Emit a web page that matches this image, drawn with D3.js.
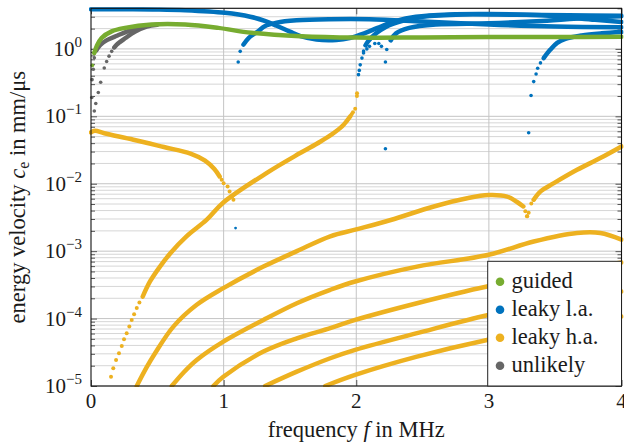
<!DOCTYPE html>
<html>
<head>
<meta charset="utf-8">
<script src="https://cdn.jsdelivr.net/npm/d3@7"></script>
<style>
  body { margin: 0; background: #fff; }
</style>
</head>
<body>
<svg id="chart" width="624" height="446"></svg>
<script>
// ---- data: [frequency in MHz, energy velocity in mm/us] ----
const xTicks = [0, 1, 2, 3, 4];
const yDecades = [1e-5, 1e-4, 1e-3, 1e-2, 1e-1, 1];
const yExponents = ["\u22125", "\u22124", "\u22123", "\u22122", "\u22121", "0"];
const legendLabels = ["guided", "leaky l.a.", "leaky h.a.", "unlikely"];

// guided (green)
const guidedDots = [[0.01, 0.57], [0.025, 0.87]];
const guidedLine = [[0.025, 0.87], [0.043, 1.1], [0.08, 1.45], [0.156, 1.82], [0.257, 2.05],
  [0.458, 2.3], [0.71, 2.3], [0.96, 2.05], [1.21, 1.73], [1.58, 1.54], [2.0, 1.47],
  [2.5, 1.48], [3.0, 1.5], [3.5, 1.5], [4.0, 1.51]];

// unlikely (grey)
const unlikelyDots1 = [[0.025, 0.12], [0.036, 0.155], [0.055, 0.226], [0.073, 0.32], [0.1, 0.52],
  [0.118, 0.65], [0.136, 0.78], [0.156, 0.92], [0.175, 1.05]];
const unlikelyLine1 = [[0.175, 1.05], [0.194, 1.16], [0.26, 1.45], [0.33, 1.8], [0.42, 2.15], [0.5, 2.28]];
const unlikelyDots2 = [[0.006, 0.19], [0.008, 0.35], [0.017, 0.5], [0.025, 0.74], [0.04, 0.95]];
const unlikelyLine2 = [[0.04, 0.95], [0.07, 1.15], [0.12, 1.35], [0.2, 1.58], [0.3, 1.9], [0.4, 2.2]];

// leaky low attenuation (blue)
const leakyLaLineA = [[0, 3.88], [0.3, 3.88], [0.5, 3.85], [0.71, 3.75], [1.01, 3.43], [1.2, 3.0],
  [1.31, 2.6], [1.4, 2.2], [1.5, 1.8], [1.58, 1.55], [1.7, 1.38], [1.85, 1.36], [1.95, 1.45],
  [2.06, 1.7], [2.16, 2.05], [2.3, 2.6], [2.45, 3.0], [2.7, 3.25], [3.0, 3.3], [3.4, 3.15],
  [3.8, 2.7], [4.0, 2.5]];
const leakyLaDotsB = [[1.11, 0.64], [1.125, 0.92], [1.15, 1.16]];
const leakyLaLineB = [[1.15, 1.16], [1.19, 1.46], [1.26, 1.82], [1.31, 2.17], [1.4, 2.45], [1.55, 2.65],
  [1.8, 2.75], [2.1, 2.75], [2.5, 2.55], [3.0, 2.3], [3.5, 2.15], [4.0, 2.1]];
const leakyLaDotsC = [[2.017, 0.415], [2.023, 0.48], [2.03, 0.58], [2.043, 0.73], [2.055, 0.93], [2.07, 1.13]];
const leakyLaLineC = [[2.07, 1.13], [2.09, 1.3], [2.15, 1.7], [2.22, 2.1], [2.35, 2.6], [2.5, 3.0],
  [2.8, 3.25], [3.2, 3.2], [3.6, 3.15], [4.0, 3.1]];
const leakyLaDotsD = [[2.055, 0.87], [2.08, 1.0], [2.1, 1.09], [2.14, 1.2], [2.17, 1.2], [2.19, 1.09]];
const leakyLaDotsE = [[2.22, 0.033], [2.22, 0.64], [2.23, 0.98], [2.26, 1.34]];
const leakyLaLineE = [[2.26, 1.34], [2.3, 1.7], [2.4, 2.05], [2.6, 2.3], [3.0, 2.4], [3.4, 2.6],
  [3.8, 2.95], [4.0, 3.05]];
const leakyLaDotsF = [[3.3, 0.057], [3.318, 0.204], [3.338, 0.327], [3.356, 0.425], [3.368, 0.515],
  [3.389, 0.62], [3.413, 0.73]];
const leakyLaLineF = [[3.413, 0.73], [3.464, 0.976], [3.515, 1.23], [3.577, 1.41], [3.7, 1.58],
  [3.85, 1.7], [4.0, 1.78]];
const leakyLaLone = [[1.09, 0.0022]];

// leaky high attenuation (yellow)
const leakyHaLine1 = [[0, 0.0577], [0.03, 0.061], [0.1, 0.056], [0.32, 0.045], [0.55, 0.035],
  [0.75, 0.028], [0.86, 0.022], [0.93, 0.0165], [0.97, 0.0128]];
const leakyHaDots1 = [[0.985, 0.0115], [1.0, 0.0102], [1.03, 0.0091], [1.045, 0.0077], [1.065, 0.0065], [1.074, 0.0058]];
const leakyHaDots2 = [[0.151, 1.37e-5], [0.168, 1.83e-5], [0.189, 2.43e-5], [0.211, 3.06e-5],
  [0.232, 3.93e-5], [0.249, 4.94e-5], [0.269, 6.07e-5], [0.289, 7.6e-5], [0.307, 9.5e-5],
  [0.325, 1.16e-4], [0.345, 1.43e-4], [0.365, 1.73e-4]];
const leakyHaLine2 = [[0.39, 2.12e-4], [0.445, 3.55e-4], [0.52, 5.9e-4], [0.6, 9.4e-4], [0.72, 1.66e-3],
  [0.873, 2.93e-3], [0.994, 5.19e-3], [1.326, 0.0145], [1.577, 0.0285], [1.728, 0.042],
  [1.83, 0.0565], [1.905, 0.075], [1.955, 0.1]];
const leakyHaDots2b = [[1.965, 0.107], [1.975, 0.115], [1.992, 0.13], [2.005, 0.2], [2.006, 0.22]];
const leakyHaDots3 = [[3.288, 0.0033], [3.3, 0.0037], [3.32, 0.0051], [3.338, 0.0058]];
const leakyHaLine3 = [[3.338, 0.0058], [3.39, 0.0077], [3.49, 0.0102], [3.665, 0.0161], [3.84, 0.024], [4.0, 0.0357]];
const leakyHaLine4 = [[0.345, 1.0e-5], [0.42, 1.9e-5], [0.483, 3.06e-5], [0.621, 7.6e-5], [0.797, 1.6e-4],
  [0.998, 2.83e-4], [1.3, 5.9e-4], [1.552, 1.0e-3], [1.804, 1.66e-3], [2.0, 2.1e-3], [2.26, 2.9e-3],
  [2.585, 4.6e-3], [2.836, 6.1e-3], [3.0, 6.8e-3], [3.137, 6.45e-3], [3.21, 5.4e-3], [3.26, 4.6e-3]];
const leakyHaDots4 = [[3.275, 3.9e-3], [3.288, 3.3e-3]];
const leakyHaLine5 = [[0.609, 1.0e-5], [0.7, 1.6e-5], [0.797, 2.43e-5], [0.998, 4.55e-5], [1.3, 9.55e-5],
  [1.552, 1.69e-4], [1.804, 2.67e-4], [1.992, 3.55e-4], [2.458, 5.9e-4], [2.998, 8.83e-4],
  [3.338, 1.39e-3], [3.665, 1.86e-3], [3.84, 1.86e-3], [4.0, 1.48e-3]];
const leakyHaLine6 = [[0.923, 1.0e-5], [0.998, 1.37e-5], [1.3, 3.24e-5], [1.552, 5.1e-5], [1.804, 7.2e-5],
  [1.992, 9.55e-5], [2.458, 1.69e-4], [2.986, 2.99e-4], [3.5, 4.6e-4], [4.0, 6.8e-4]];
const leakyHaLine7 = [[1.313, 1.0e-5], [1.552, 1.63e-5], [1.804, 2.58e-5], [1.992, 3.43e-5],
  [2.458, 6.07e-5], [2.998, 1.13e-4], [3.5, 1.7e-4], [4.0, 2.52e-4]];
const leakyHaLine8 = [[1.766, 1.0e-5], [1.992, 1.46e-5], [2.458, 2.72e-5], [2.986, 4.82e-5], [3.5, 7.4e-5], [4.0, 1.07e-4]];

const green = "#77AC30", blue = "#0072BD", yellow = "#EDB120", grey = "#666666";
const legendColors = [green, blue, yellow, grey];

// ---- layout ----
const plotLeft = 91, plotRight = 621.5, plotTop = 8.3, plotBottom = 386;
const serif = "Liberation Serif";
const tickFont = 21, labelFont = 22.5;

const svg = d3.select("#chart");

const x = d3.scaleLinear().domain([0, 4]).range([plotLeft, plotRight]);
const y = d3.scaleLog().domain([1e-5, 4]).range([plotBottom, plotTop]);

// minor tick positions 2..9 in every decade
var minorVals = [];
yDecades.forEach(function(d) {
  for (var k = 2; k <= 9; k++) {
    if (k * d <= 4) minorVals.push(k * d);
  }
});

// grid
var grid = svg.append("g");
grid.selectAll(".hminor")
  .data(minorVals).enter().append("line")
  .attr("x1", plotLeft).attr("x2", plotRight)
  .attr("y1", d => y(d)).attr("y2", d => y(d))
  .attr("stroke", "#d6d6d6").attr("stroke-width", 1);
grid.selectAll(".hmajor")
  .data(yDecades).enter().append("line")
  .attr("x1", plotLeft).attr("x2", plotRight)
  .attr("y1", d => y(d)).attr("y2", d => y(d))
  .attr("stroke", "#c4c4c4").attr("stroke-width", 1);
grid.selectAll(".vmajor")
  .data(xTicks.slice(1, -1)).enter().append("line")
  .attr("x1", d => x(d)).attr("x2", d => x(d))
  .attr("y1", plotTop).attr("y2", plotBottom)
  .attr("stroke", "#c4c4c4").attr("stroke-width", 1);

// inward ticks on all four sides
function tickAxis(axis, tx, ty) {
  var g = svg.append("g").attr("transform", "translate(" + tx + "," + ty + ")").call(axis);
  g.select(".domain").remove();
  g.selectAll("line").attr("stroke", "#555");
}
tickAxis(d3.axisLeft(y).tickValues(yDecades).tickSize(-6).tickFormat(""), plotLeft, 0);
tickAxis(d3.axisLeft(y).tickValues(minorVals).tickSize(-4).tickFormat(""), plotLeft, 0);
tickAxis(d3.axisRight(y).tickValues(yDecades).tickSize(-6).tickFormat(""), plotRight, 0);
tickAxis(d3.axisRight(y).tickValues(minorVals).tickSize(-4).tickFormat(""), plotRight, 0);
tickAxis(d3.axisBottom(x).tickValues(xTicks).tickSize(-6).tickFormat(""), 0, plotBottom);
tickAxis(d3.axisTop(x).tickValues(xTicks).tickSize(-6).tickFormat(""), 0, plotTop);

// data layer
svg.append("clipPath").attr("id", "plotclip")
  .append("rect")
  .attr("x", plotLeft - 2).attr("y", plotTop - 1)
  .attr("width", plotRight - plotLeft + 4).attr("height", plotBottom - plotTop + 2);

var plot = svg.append("g").attr("clip-path", "url(#plotclip)");

var line = d3.line()
  .x(d => x(d[0]))
  .y(d => y(d[1]))
  .curve(d3.curveCatmullRom.alpha(0.5));

function drawLine(data, color) {
  plot.append("path")
    .datum(data)
    .attr("d", line)
    .attr("fill", "none")
    .attr("stroke", color)
    .attr("stroke-width", 4.5)
    .attr("stroke-linecap", "round")
    .attr("stroke-linejoin", "round");
}
function drawDots(data, color, r) {
  plot.append("g").selectAll("circle")
    .data(data).enter().append("circle")
    .attr("cx", d => x(d[0]))
    .attr("cy", d => y(d[1]))
    .attr("r", r || 1.9)
    .attr("fill", color);
}

// leaky h.a. first, then leaky l.a., unlikely, guided on top
[leakyHaLine1, leakyHaLine2, leakyHaLine3, leakyHaLine4, leakyHaLine5,
 leakyHaLine6, leakyHaLine7, leakyHaLine8].forEach(d => drawLine(d, yellow));
[leakyHaDots1, leakyHaDots2, leakyHaDots2b, leakyHaDots3, leakyHaDots4].forEach(d => drawDots(d, yellow, 2.0));

[leakyLaLineA, leakyLaLineB, leakyLaLineC, leakyLaLineE, leakyLaLineF].forEach(d => drawLine(d, blue));
[leakyLaDotsB, leakyLaDotsC, leakyLaDotsD, leakyLaDotsE, leakyLaDotsF].forEach(d => drawDots(d, blue, 1.8));
drawDots(leakyLaLone, blue, 1.4);

drawLine(unlikelyLine1, grey);
drawLine(unlikelyLine2, grey);
drawDots(unlikelyDots1, grey, 1.8);
drawDots(unlikelyDots2, grey, 1.8);

drawLine(guidedLine, green);
drawDots(guidedDots, green, 1.9);

// frame
svg.append("rect")
  .attr("x", plotLeft).attr("y", plotTop)
  .attr("width", plotRight - plotLeft).attr("height", plotBottom - plotTop)
  .attr("fill", "none").attr("stroke", "#111").attr("stroke-width", 1.1);

// tick labels
svg.append("g").selectAll("text")
  .data(xTicks).enter().append("text")
  .attr("x", d => x(d)).attr("y", plotBottom + 22)
  .attr("text-anchor", "middle")
  .style("font-family", serif)
  .style("font-size", tickFont + "px")
  .attr("fill", "#1a1a1a")
  .text(d => d);

var ylab = svg.append("g").selectAll("text")
  .data(yDecades).enter().append("text")
  .attr("x", plotLeft - 9).attr("y", d => y(d) + 7)
  .attr("text-anchor", "end")
  .style("font-family", serif)
  .style("font-size", tickFont + "px")
  .attr("fill", "#1a1a1a");
ylab.append("tspan").text("10");
ylab.append("tspan")
  .style("font-size", "15px").attr("dy", -9)
  .text((d, i) => yExponents[i]);

// axis titles
var xt = svg.append("text")
  .attr("x", (plotLeft + plotRight) / 2).attr("y", 437)
  .attr("text-anchor", "middle")
  .style("font-family", serif)
  .style("font-size", labelFont + "px")
  .attr("fill", "#1a1a1a");
xt.append("tspan").text("frequency ");
xt.append("tspan").style("font-style", "italic").text("f");
xt.append("tspan").text(" in MHz");

var yt = svg.append("text")
  .attr("transform", "translate(25," + ((plotTop + plotBottom) / 2) + ") rotate(-90)")
  .attr("text-anchor", "middle")
  .style("font-family", serif)
  .style("font-size", labelFont + "px")
  .attr("fill", "#1a1a1a");
yt.append("tspan").text("energy velocity ");
yt.append("tspan").style("font-style", "italic").text("c");
yt.append("tspan").style("font-size", "16px").attr("dy", 4).text("e");
yt.append("tspan").attr("dy", -4).text(" in mm/\u03bcs");

// legend
var legend = svg.append("g");
legend.append("rect")
  .attr("x", 487.7).attr("y", 261.3)
  .attr("width", plotRight - 487.7).attr("height", plotBottom - 261.3)
  .attr("fill", "#fff").attr("stroke", "#222").attr("stroke-width", 1);

var entries = legend.selectAll(".entry")
  .data(legendLabels).enter().append("g")
  .attr("transform", (d, i) => "translate(500," + (281.7 + i * 28) + ")");
entries.append("circle")
  .attr("r", 4.3)
  .attr("fill", (d, i) => legendColors[i]);
entries.append("text")
  .attr("x", 11.5).attr("y", 6.5)
  .style("font-family", serif)
  .style("font-size", labelFont + "px")
  .attr("fill", "#1a1a1a")
  .text(d => d);
</script>
</body>
</html>
